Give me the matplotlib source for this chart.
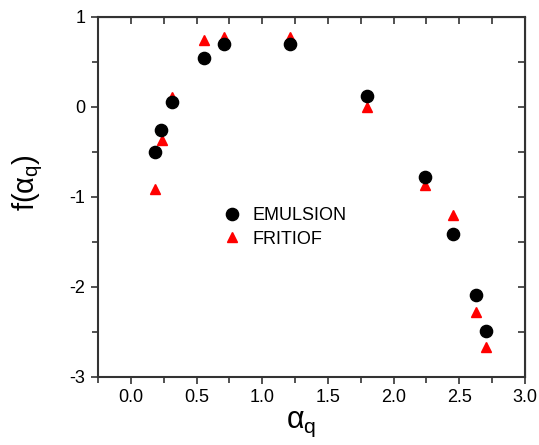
import matplotlib

matplotlib.use("Agg")
import matplotlib.pyplot as plt
from matplotlib.ticker import MultipleLocator

plt.rcParams["font.family"] = ["Liberation Sans", "DejaVu Sans"]
plt.rcParams["mathtext.fontset"] = "custom"
plt.rcParams["mathtext.rm"] = "Liberation Sans"
plt.rcParams["mathtext.it"] = "Liberation Sans"

# data
emu_alpha = [0.183, 0.229, 0.313, 0.557, 0.710, 1.210, 1.794, 2.237, 2.450, 2.626, 2.700]
emu_f = [-0.50, -0.256, 0.05, 0.544, 0.70, 0.70, 0.125, -0.778, -1.41, -2.09, -2.49]
frit_alpha = [0.183, 0.237, 0.313, 0.557, 0.710, 1.210, 1.794, 2.240, 2.450, 2.626, 2.700]
frit_f = [-0.91, -0.367, 0.11, 0.744, 0.78, 0.78, 0.0, -0.87, -1.20, -2.28, -2.67]

fig = plt.figure(figsize=(5.39, 4.45), dpi=100)
ax = fig.add_axes([0.182, 0.153, 0.792, 0.809])

ax.plot(emu_alpha, emu_f, "o", color="black", markersize=8.8, label="EMULSION", zorder=3)
ax.plot(frit_alpha, frit_f, "^", color="red", markersize=7.5, label="FRITIOF", zorder=2)

ax.set_xlim(-0.25, 3.0)
ax.set_ylim(-3, 1)
ax.xaxis.set_minor_locator(MultipleLocator(0.25))
ax.yaxis.set_minor_locator(MultipleLocator(0.5))
ax.set_xticks([0.0, 0.5, 1.0, 1.5, 2.0, 2.5, 3.0])
ax.set_xticklabels(["0.0", "0.5", "1.0", "1.5", "2.0", "2.5", "3.0"])
ax.set_yticks([-3, -2, -1, 0, 1])
ax.set_yticklabels(["-3", "-2", "-1", "0", "1"])

for s in ax.spines.values():
    s.set_linewidth(1.5)
    s.set_color("#333333")

ax.tick_params(which="both", direction="out", labelsize=13, width=1.2, color="#333333")
ax.tick_params(which="major", length=5, pad=4)
ax.tick_params(which="minor", length=4)

# inward ticks on top and right, no labels
sx = ax.secondary_xaxis("top")
sx.set_xticks([i * 0.25 for i in range(-1, 13)])
sx.set_xticklabels([])
sx.tick_params(direction="in", length=5, width=1.2, color="#333333")
sy = ax.secondary_yaxis("right")
sy.set_yticks([-3 + 0.5 * i for i in range(9)])
sy.set_yticklabels([])
sy.tick_params(direction="in", length=5, width=1.2, color="#333333")

ax.set_xlabel(r"$\alpha_\mathrm{q}$", fontsize=22)
ax.xaxis.set_label_coords(0.475, -0.09)
ax.set_ylabel(r"f($\alpha_\mathrm{q}$)", fontsize=21)
ax.yaxis.set_label_coords(-0.125, 0.54)

ax.legend(loc="center", bbox_to_anchor=(0.435, 0.415), frameon=False, fontsize=13,
          handletextpad=0.5, labelspacing=0.35, handlelength=1.2)

fig.savefig("out.png", dpi=100)
